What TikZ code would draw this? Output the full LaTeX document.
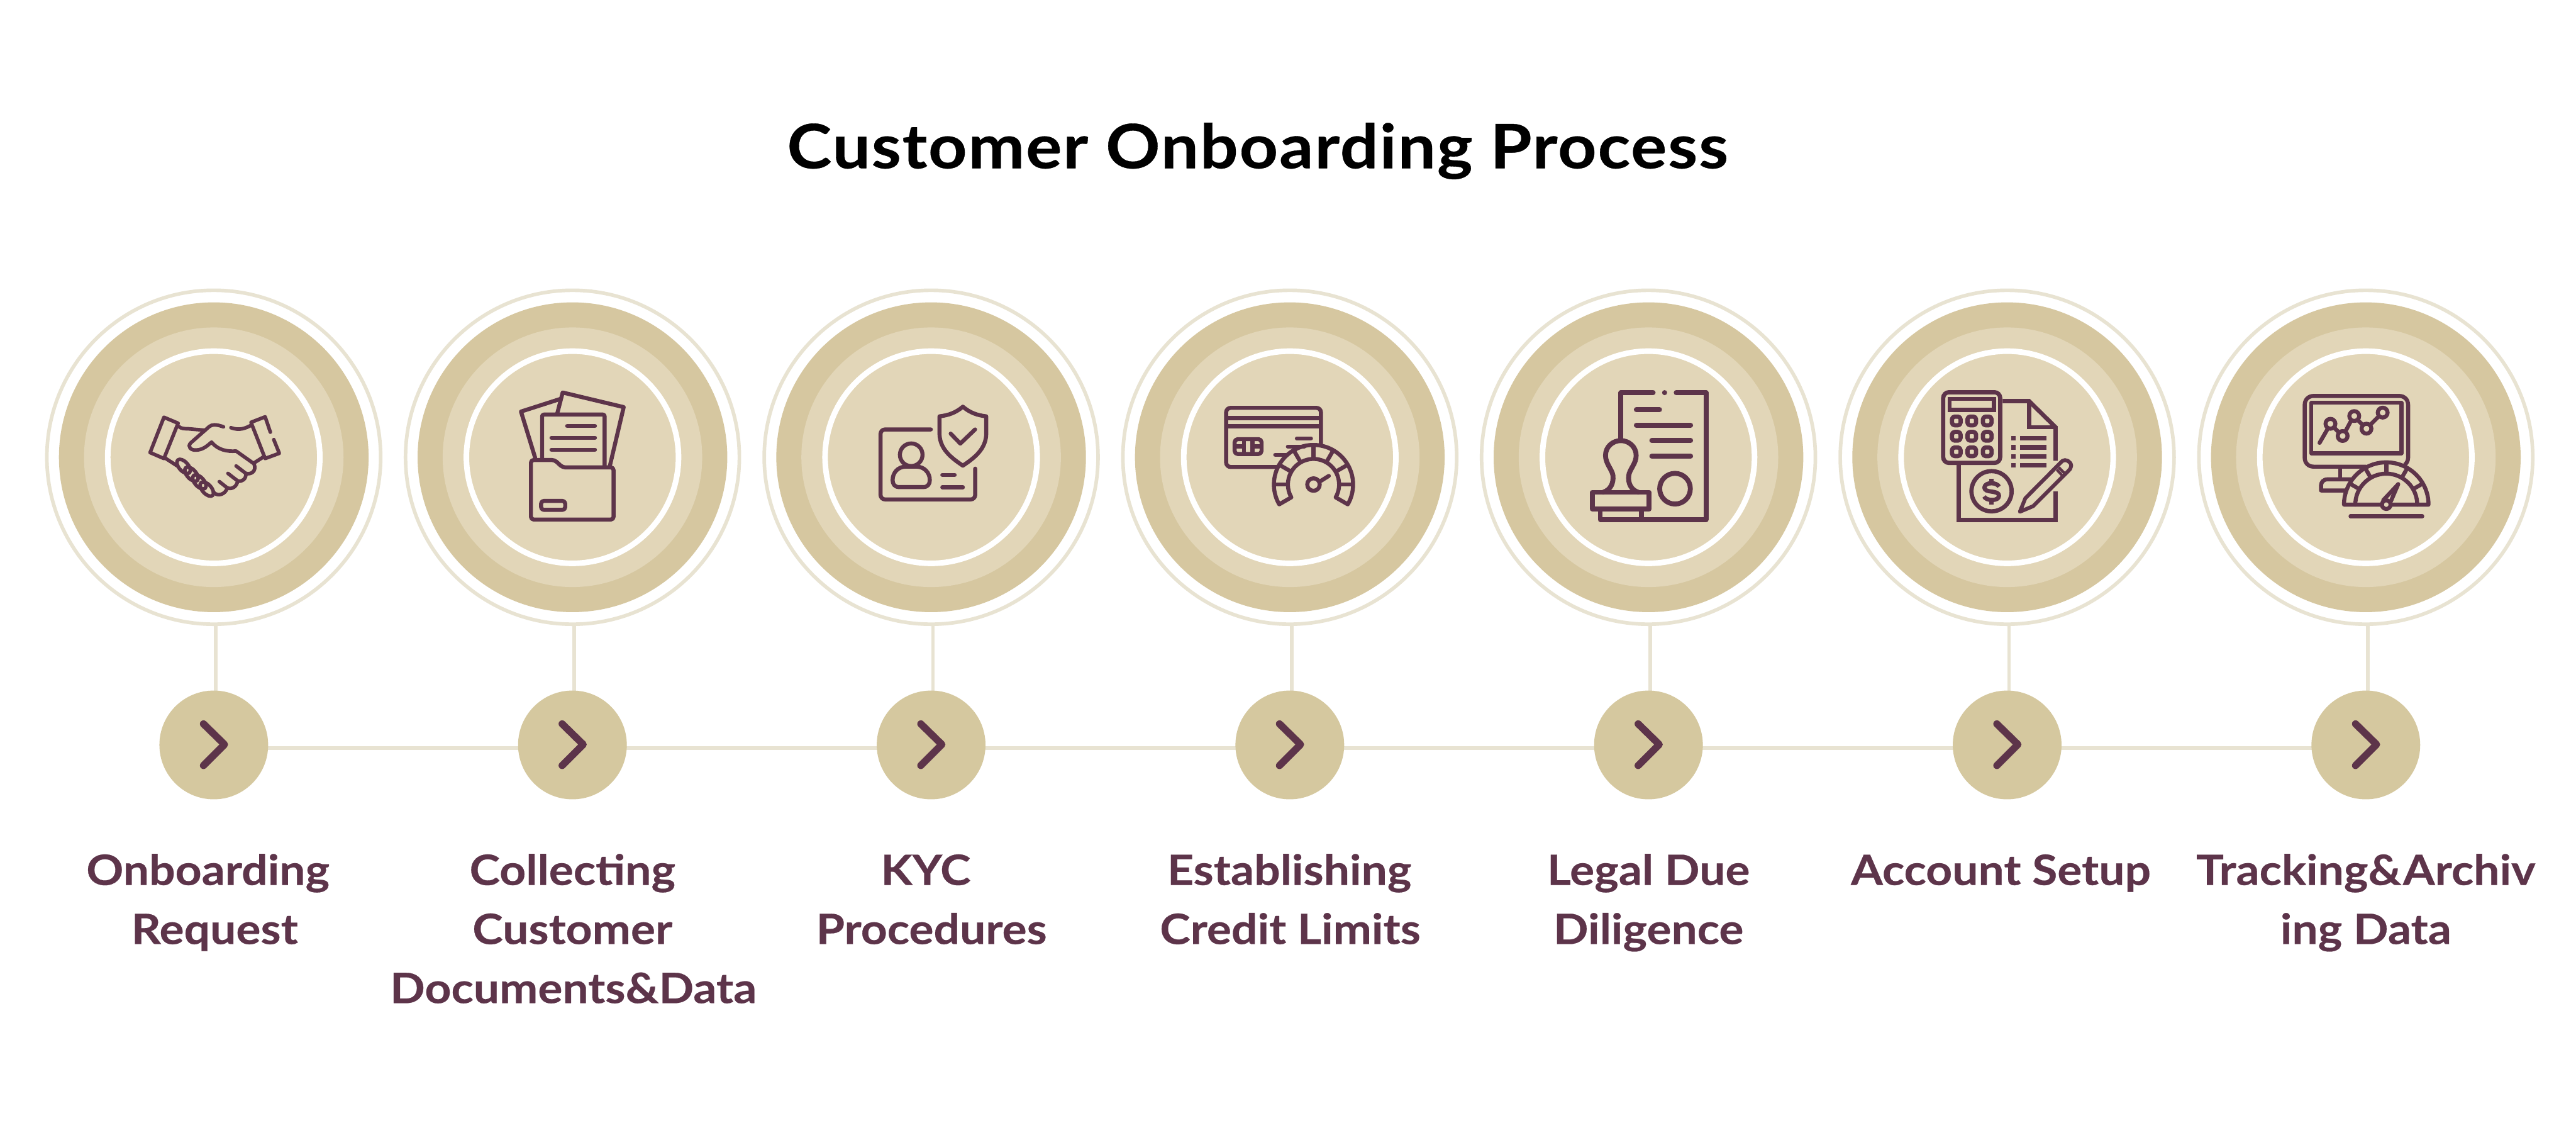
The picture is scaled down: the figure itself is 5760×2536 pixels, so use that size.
\documentclass[tikz,border=0pt]{standalone}
\usepackage{fontspec}
\setmainfont{Lato}[BoldFeatures={FakeStretch=1.1,FakeBold=0.35}]
\usetikzlibrary{backgrounds}
\definecolor{band}{HTML}{D6C7A0}
\definecolor{mid}{HTML}{E2D6B8}
\definecolor{pale}{HTML}{E8E3D2}
\definecolor{bead}{HTML}{D5C89F}
\definecolor{plum}{HTML}{5D344A}
\tikzset{
  ring/.style={circle,draw=pale,line width=0.8mm,inner sep=0pt,minimum size=74.6mm},
  bandc/.style={circle,fill=band,inner sep=0pt,minimum size=69.2mm},
  midc/.style={circle,fill=mid,inner sep=0pt,minimum size=58mm},
  whitec/.style={circle,draw=white,line width=1.25mm,inner sep=0pt,minimum size=47.4mm},
  bead/.style={circle,fill=bead,inner sep=0pt,minimum size=24.3mm},
  link/.style={draw=pale,line width=0.8mm},
  chev/.style={draw=plum,line width=1.6mm,line cap=round,line join=round},
  lbl/.style={anchor=base,inner sep=0pt,text=plum,font=\fontsize{26.6}{32}\selectfont\bfseries},
  ttl/.style={anchor=base,inner sep=0pt,text=black,font=\fontsize{38.9}{46}\selectfont\bfseries},
  zm/.style n args={3}{shift={(#1,#2)},x=0.0033333cm,y=-0.0033333cm,draw=plum,line width=#3,line cap=round,line join=round},
}
\newcommand{\lab}[4]{\node[lbl] (#1) at (#2,#3) {#4};}
\begin{document}
\begin{tikzpicture}[x=0.01cm,y=-0.01cm]
\useasboundingbox (0,0) rectangle (5760,2536);
% circles and beads
\foreach \i [evaluate=\i as \cx using {478+802*(\i-1)}] in {1,...,7}{
  \node[ring] (r\i) at (\cx,1022) {};
  \node[bandc] (d\i) at (\cx,1022) {};
  \node[midc] (m\i) at (\cx,1022) {};
  \node[whitec] (w\i) at (\cx,1022) {};
  \node[bead] (b\i) at (\cx,1665) {};
  \coordinate (cl\i) at (\cx,1664);
  \draw[chev] ([shift={(-23,-46)}]cl\i) -- ([shift={(24,0)}]cl\i) -- ([shift={(-23,47)}]cl\i);
}
\begin{scope}[on background layer]
  \fill[white] (0,0) rectangle (5760,2536);
  \foreach \i in {1,...,7}{
    \draw[link] ([xshift=0.4mm]r\i.south) -- ([xshift=0.4mm]b\i.center);
  }
  \foreach \i/\j in {1/2,2/3,3/4,4/5,5/6,6/7}{
    \draw[link] ([yshift=-0.7mm]b\i.center) -- ([yshift=-0.7mm]b\j.center);
  }
\end{scope}
% title
\node[ttl] (title) at (2812,376) {\addfontfeature{LetterSpace=2}Customer Onboarding Process};
% labels
\lab{l1a}{465}{1978}{Onboarding}
\lab{l1b}{480}{2110}{Request}
\lab{l2a}{1280}{1978}{Collecting}
\lab{l2b}{1280}{2110}{Customer}
\lab{l2c}{1282}{2242}{Documents\&Data}
\lab{l3a}{2070}{1978}{KYC}
\lab{l3b}{2083}{2110}{Procedures}
\lab{l4a}{2883}{1978}{Establishing}
\lab{l4b}{2885}{2110}{Credit Limits}
\lab{l5a}{3686}{1978}{Legal Due}
\lab{l5b}{3686}{2110}{Diligence}
\lab{l6a}{4474}{1978}{Account Setup}
\lab{l7a}{5290}{1978}{Tracking\&Archiv}
\lab{l7b}{5290}{2110}{ing Data}
% icon 1 handshake
\begin{scope}[zm={320}{930}{0.8mm}]
\draw (140,8) -- (235,48) -- (140,285) -- (47,245) -- cycle;
\draw (240,70) .. controls (255,85) and (280,85) .. (300,85) -- (415,95);
\draw (540,72) .. controls (490,55) and (465,55) .. (445,70) -- (320,180) .. controls (295,205) and (320,232) .. (360,228) .. controls (410,225) and (440,190) .. (460,175) .. controls (500,225) and (560,240) .. (625,235) -- (745,320) .. controls (765,370) and (725,395) .. (690,385);
\draw (590,78) .. controls (650,100) and (690,80) .. (725,62);
\draw (855,108) -- (820,5) -- (725,42) -- (820,285) -- (915,250) -- (878,158);
\draw (145,280) -- (230,335);
\draw (745,315) -- (815,270);
\draw (625,335) -- (690,385) .. controls (695,420) and (665,445) .. (635,435);
\draw (570,385) -- (635,435) .. controls (630,475) and (595,495) .. (565,482);
\draw (512,440) -- (565,482) .. controls (555,525) and (500,545) .. (472,510);
\foreach \p in {(272,338),(325,390),(378,442),(428,490)}{
  \draw \p ellipse[x radius=58,y radius=31,rotate=-48];
}
\end{scope}
% icon 2 folder
\begin{scope}[zm={1140}{860}{0.9mm}]
\draw (170,490) -- (75,180) -- (340,95);
\draw (318,195) -- (355,52) -- (765,150) -- (672,545);
\draw[rounded corners=0.4mm] (217,495) -- (217,200) -- (637,200) -- (637,548);
\draw (385,277) -- (572,277) (280,356) -- (572,356) (280,436) -- (572,436);
\draw[rounded corners=0.6mm] (142,905) -- (142,505) -- (300,505) -- (355,555) -- (697,555) -- (697,905) -- cycle;
\draw[rounded corners=0.6mm] (210,780) rectangle (372,840);
\end{scope}
% icon 3 id + shield
\begin{scope}[zm={1920}{880}{0.9mm}]
\draw[rounded corners=1mm] (485,240) -- (147,240) -- (147,710) -- (783,710) -- (783,503);
\draw (353,410) circle[radius=76];
\draw (272,627) .. controls (240,627) and (228,605) .. (228,580) .. controls (228,530) and (265,490) .. (315,490) -- (390,490) .. controls (440,490) and (478,530) .. (478,580) .. controls (478,605) and (465,627) .. (435,627) -- cycle;
\draw (562,545) -- (645,545) (562,628) -- (700,628);
\draw (700,87) .. controls (650,130) and (600,145) .. (543,152) -- (543,270) .. controls (545,370) and (620,430) .. (700,483) .. controls (780,430) and (855,370) .. (857,270) -- (857,152) .. controls (800,145) and (750,130) .. (700,87) -- cycle;
\draw (618,268) -- (683,335) -- (782,240);
\end{scope}
% icon 4 card + gauge
\begin{scope}[zm={2720}{880}{0.9mm}]
\draw[rounded corners=1mm,line cap=butt] (405,492) -- (65,492) -- (65,95) -- (702,95) -- (702,340);
\draw[line cap=butt] (70,163) -- (697,163) (70,218) -- (697,218);
\draw[rounded corners=0.7mm] (122,305) rectangle (303,405);
\draw[line cap=butt,line width=0.95mm] (185,305) -- (185,405) (243,305) -- (243,405) (122,355) -- (185,355) (243,355) -- (303,355);
\draw (540,300) -- (635,300) (480,355) -- (590,355) (395,410) -- (470,410);
\begin{scope}[shift={(652,610)}]
\draw (-210:266) arc[start angle=-210,end angle=30,radius=266] -- (30:172) arc[start angle=30,end angle=-210,radius=172] -- cycle;
\foreach \a in {-180,-150,-120,-90,-60,-30,0}{\draw[line cap=butt] (\a:172) -- (\a:266);}
\draw (0,0) circle[radius=42];
\draw (42,-20) -- (103,-58);
\end{scope}
\end{scope}
% icon 5 document + stamp
\begin{scope}[zm={3540}{850}{1.1mm}]
\draw (470,83) -- (253,83) -- (253,395);
\draw (625,83) -- (825,83) -- (825,935) -- (115,935) -- (115,870);
\fill[plum] (547,83) circle[radius=17];
\draw (357,197) -- (513,197) (357,302) -- (722,302) (461,405) -- (722,405) (461,510) -- (722,510);
\draw (617,728) circle[radius=103];
\draw (62,752) rectangle (443,866);
\draw (392,870) -- (392,930);
\draw (135,752) .. controls (185,735) and (205,690) .. (200,640) .. controls (195,600) and (150,560) .. (150,505) .. controls (150,445) and (200,405) .. (253,405) .. controls (305,405) and (356,445) .. (356,505) .. controls (356,560) and (310,600) .. (306,640) .. controls (300,690) and (320,735) .. (370,752);
\end{scope}
% icon 6 calculator + doc
\begin{scope}[zm={4330}{860}{0.95mm}]
\draw[rounded corners=1.3mm] (45,50) rectangle (428,525);
\draw[line join=miter] (88,95) rectangle (385,170);
\foreach \x in {133,237,341}{\foreach \y in {243,346,450}{
  \draw[rounded corners=0.6mm] (\x-29,\y-29) rectangle (\x+29,\y+29);
}}
\draw[line cap=butt,line join=miter] (445,110) -- (622,110) -- (800,285) -- (800,510);
\draw[line cap=butt,line join=miter] (622,110) -- (622,285) -- (800,285);
\draw[line cap=butt,line join=miter] (800,717) -- (800,908) -- (148,908) -- (148,535);
\foreach \y in {360,420,480,540}{
  \fill[plum] (503,\y-15) rectangle (533,\y+15);
  \fill[plum] (563,\y-15) rectangle (740,\y+15);
}
\draw (370,715) circle[radius=135];
\draw[line cap=butt] (370,630) -- (370,662) (370,772) -- (370,805);
\draw[line cap=butt] (420,685) .. controls (410,655) and (325,650) .. (322,690) .. controls (320,730) and (420,705) .. (420,745) .. controls (420,785) and (330,780) .. (320,750);
\draw[line width=0.85mm] (560,853) -- (597,762) -- (845,512) .. controls (865,495) and (905,515) .. (905,545) .. controls (905,560) and (895,570) .. (885,580) -- (650,815) -- cycle;
\draw[line width=0.6mm,line cap=butt] (822,555) -- (868,602) (808,570) -- (850,615);
\end{scope}
% icon 7 monitor + gauge
\begin{scope}[zm={5130}{860}{0.9mm}]
\draw (480,550) -- (130,550) .. controls (95,550) and (70,525) .. (70,490) -- (70,135) .. controls (70,100) and (95,75) .. (130,75) -- (705,75) .. controls (740,75) and (765,100) .. (765,135) -- (765,490) .. controls (765,510) and (755,525) .. (745,535);
\draw[line join=round] (115,120) rectangle (720,460);
\foreach \c in {(243,262),(325,344),(403,210),(485,295),(594,187)}{\draw \c circle[radius=33];}
\draw (170,390) -- (225,295) (270,290) -- (295,315) (345,310) -- (380,245) (430,240) -- (460,270) (515,265) -- (565,215);
\draw[line cap=butt] (308,555) -- (308,630);
\draw (380,635) -- (225,635) .. controls (195,635) and (180,655) .. (180,675) -- (180,710) -- (340,710);
\begin{scope}[shift={(618,805)}]
\draw (-180:284) arc[start angle=-180,end angle=0,radius=284] -- cycle;
\draw (-180:208) arc[start angle=-180,end angle=0,radius=208];
\foreach \a in {-150,-120,-90,-60,-30}{\draw[line cap=butt] (\a:208) -- (\a:284);}
\fill[mid] (0,0) circle[radius=30];
\draw (0,0) circle[radius=29];
\draw (80,-137) -- (-20,-30);
\draw (80,-137) -- (30,-20);
\end{scope}
\draw (378,883) -- (860,883);
\end{scope}
\end{tikzpicture}
\end{document}
